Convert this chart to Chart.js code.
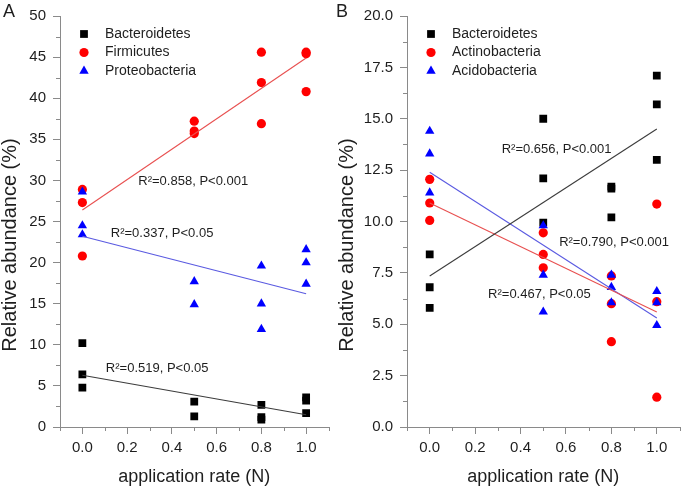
<!DOCTYPE html>
<html>
<head>
<meta charset="utf-8">
<script src="https://cdn.jsdelivr.net/npm/chart.js@4.4.1/dist/chart.umd.min.js"></script>
<style>
  html, body { margin: 0; padding: 0; background: #fff; }
  #wrap { position: relative; width: 685px; height: 490px; }
  #chartA { position: absolute; left: 0; top: 0; }
  #chartB { position: absolute; left: 334px; top: 0; }
</style>
</head>
<body>
<div id="wrap">
  <canvas id="chartA" width="334" height="490"></canvas>
  <canvas id="chartB" width="351" height="490"></canvas>
</div>
<script>
const FONT = "'Liberation Sans', Arial, sans-serif";
const TEXT = '#1e1e1e';
const AXIS = '#8a8a8a';

// shared x axis
const xTicks = [0, 0.2, 0.4, 0.6, 0.8, 1.0];
const xMinor = [-0.1, 0.1, 0.3, 0.5, 0.7, 0.9, 1.1];
const fitX = [0, 1];

// panel A
const yTicksA = [0, 5, 10, 15, 20, 25, 30, 35, 40, 45, 50];
const yMinorA = [2.5, 7.5, 12.5, 17.5, 22.5, 27.5, 32.5, 37.5, 42.5, 47.5];
const bactA_x = [0, 0, 0, 0.5, 0.5, 0.8, 0.8, 0.8, 1, 1, 1];
const bactA_y = [10.2, 6.4, 4.8, 3.1, 1.3, 2.7, 1.2, 0.9, 3.6, 3.2, 1.7];
const firmA_x = [0, 0, 0, 0.5, 0.5, 0.5, 0.8, 0.8, 0.8, 1, 1, 1];
const firmA_y = [28.9, 27.3, 20.8, 37.2, 36.0, 35.7, 45.6, 41.9, 36.9, 45.6, 45.4, 40.8];
const protA_x = [0, 0, 0, 0.5, 0.5, 0.8, 0.8, 0.8, 1, 1, 1];
const protA_y = [28.6, 24.5, 23.4, 17.7, 14.9, 19.6, 15.0, 11.9, 21.6, 20.0, 17.4];
const bactA_fit = [6.3, 1.5];
const firmA_fit = [26.4, 44.9];
const protA_fit = [23.2, 16.2];

// panel B
const yTicksB = [0, 2.5, 5, 7.5, 10, 12.5, 15, 17.5, 20];
const yMinorB = [1.25, 3.75, 6.25, 8.75, 11.25, 13.75, 16.25, 18.75];
const bactB_x = [0, 0, 0, 0.5, 0.5, 0.5, 0.8, 0.8, 0.8, 1, 1, 1];
const bactB_y = [8.4, 6.8, 5.8, 15.0, 12.1, 9.95, 11.7, 11.6, 10.2, 17.1, 15.7, 13.0];
const actB_x = [0, 0, 0, 0.5, 0.5, 0.5, 0.8, 0.8, 0.8, 1, 1, 1];
const actB_y = [12.05, 10.9, 10.05, 9.45, 8.4, 7.75, 7.35, 6.0, 4.15, 10.85, 6.1, 1.45];
const acidB_x = [0, 0, 0, 0.5, 0.5, 0.5, 0.8, 0.8, 0.8, 1, 1, 1];
const acidB_y = [14.4, 13.3, 11.4, 9.8, 7.4, 5.6, 7.4, 6.8, 6.05, 6.6, 6.05, 4.95];
const bactB_fit = [7.35, 14.5];
const actB_fit = [10.9, 5.6];
const acidB_fit = [12.4, 5.3];

function pts(xs, ys) {
  return xs.map((x, i) => ({ x: x, y: ys[i] }));
}

function markers(label, xs, ys, color, style, radius, order) {
  return {
    label: label,
    data: pts(xs, ys),
    pointStyle: style,
    pointRadius: radius,
    pointHoverRadius: radius,
    backgroundColor: color,
    borderColor: color,
    borderWidth: 0,
    showLine: false,
    order: order
  };
}

function fitLine(ys, color) {
  return {
    label: '',
    fit: true,
    data: pts(fitX, ys),
    borderColor: color,
    borderWidth: 1.1,
    pointRadius: 0,
    showLine: true,
    fill: false,
    order: 0
  };
}

function panelPlugin(cfg) {
  return {
    id: 'panel' + cfg.letter,
    afterDraw(chart) {
      const ctx = chart.ctx;
      const area = chart.chartArea;
      const xs = chart.scales.x;
      const ys = chart.scales.y;
      ctx.save();

      // minor ticks
      ctx.strokeStyle = AXIS;
      ctx.lineWidth = 1;
      ctx.beginPath();
      xMinor.forEach(v => {
        const p = Math.round(xs.getPixelForValue(v)) + 0.5;
        ctx.moveTo(p, area.bottom);
        ctx.lineTo(p, area.bottom + 4);
      });
      cfg.yMinor.forEach(v => {
        const p = Math.round(ys.getPixelForValue(v)) + 0.5;
        ctx.moveTo(area.left - 4, p);
        ctx.lineTo(area.left, p);
      });
      ctx.stroke();

      // legend
      ctx.font = '14px ' + FONT;
      ctx.textAlign = 'left';
      ctx.textBaseline = 'middle';
      chart.data.datasets.filter(d => !d.fit).forEach((d, i) => {
        const y = area.top + 18 + i * 18.5;
        const x = area.left + 24;
        ctx.fillStyle = d.backgroundColor;
        Chart.helpers.drawPoint(ctx, {
          pointStyle: d.pointStyle, radius: d.pointRadius, rotation: 0, borderWidth: 0
        }, x, y);
        ctx.fillStyle = TEXT;
        ctx.fillText(d.label, area.left + 45, y);
      });

      // regression notes
      ctx.font = '13px ' + FONT;
      cfg.notes.forEach(n => {
        ctx.fillText(n.text, xs.getPixelForValue(n.x), ys.getPixelForValue(n.y));
      });

      // y axis title
      ctx.save();
      ctx.font = '20px ' + FONT;
      ctx.textAlign = 'center';
      ctx.translate(cfg.yTitleX, 245);
      ctx.rotate(-Math.PI / 2);
      ctx.fillText('Relative abundance (%)', 0, 0);
      ctx.restore();

      // panel letter
      ctx.font = '18px ' + FONT;
      ctx.textAlign = 'center';
      ctx.fillText(cfg.letter, cfg.letterX, 12);

      ctx.restore();
    }
  };
}

function makeChart(id, cfg) {
  return new Chart(document.getElementById(id), {
    type: 'scatter',
    data: { datasets: cfg.datasets },
    options: {
      responsive: false,
      animation: false,
      events: [],
      layout: { padding: { top: 10, right: cfg.padRight, left: 0, bottom: 0 } },
      plugins: { legend: { display: false }, tooltip: { enabled: false } },
      scales: {
        x: {
          type: 'linear',
          min: -0.1,
          max: 1.1,
          afterBuildTicks: s => { s.ticks = xTicks.map(v => ({ value: v })); },
          afterFit: s => { s.height = 63; },
          border: { display: true, color: AXIS, width: 1 },
          grid: { drawOnChartArea: false, drawTicks: true, tickLength: 7, tickColor: AXIS },
          ticks: {
            padding: 5,
            color: TEXT,
            font: { family: FONT, size: 15 },
            maxRotation: 0,
            callback: v => v.toFixed(1)
          },
          title: {
            display: true,
            text: 'application rate (N)',
            color: TEXT,
            font: { family: FONT, size: 18 },
            padding: { top: 0, bottom: 2 }
          }
        },
        y: {
          type: 'linear',
          min: cfg.yMin,
          max: cfg.yMax,
          afterBuildTicks: s => { s.ticks = cfg.yTicks.map(v => ({ value: v })); },
          afterFit: s => { s.width = cfg.yWidth; },
          border: { display: true, color: AXIS, width: 1 },
          grid: { drawOnChartArea: false, drawTicks: true, tickLength: 7, tickColor: AXIS },
          ticks: {
            padding: 7,
            color: TEXT,
            font: { family: FONT, size: 15 },
            callback: cfg.yFormat
          }
        }
      }
    },
    plugins: [panelPlugin(cfg)]
  });
}

makeChart('chartA', {
  letter: 'A',
  letterX: 9,
  yTitleX: 10,
  yWidth: 60,
  padRight: 1,
  yMin: 0,
  yMax: 50,
  yTicks: yTicksA,
  yMinor: yMinorA,
  yFormat: v => String(v),
  datasets: [
    fitLine(firmA_fit, 'rgb(232, 80, 80)'),
    fitLine(protA_fit, 'rgb(90, 90, 225)'),
    fitLine(bactA_fit, 'rgb(60, 60, 60)'),
    markers('Bacteroidetes', bactA_x, bactA_y, '#000000', 'rect', 5.5, 3),
    markers('Firmicutes', firmA_x, firmA_y, '#ff0000', 'circle', 4.6, 2),
    markers('Proteobacteria', protA_x, protA_y, '#0000ff', 'triangle', 5.4, 1)
  ],
  notes: [
    { text: 'R\u00b2=0.858, P<0.001', x: 0.25, y: 29.9 },
    { text: 'R\u00b2=0.337, P<0.05', x: 0.127, y: 23.6 },
    { text: 'R\u00b2=0.519, P<0.05', x: 0.105, y: 7.07 }
  ]
});

makeChart('chartB', {
  letter: 'B',
  letterX: 8,
  yTitleX: 13,
  yWidth: 73,
  padRight: 3,
  yMin: 0,
  yMax: 20,
  yTicks: yTicksB,
  yMinor: yMinorB,
  yFormat: v => v.toFixed(1),
  datasets: [
    fitLine(bactB_fit, 'rgb(60, 60, 60)'),
    fitLine(actB_fit, 'rgb(232, 80, 80)'),
    fitLine(acidB_fit, 'rgb(90, 90, 225)'),
    markers('Bacteroidetes', bactB_x, bactB_y, '#000000', 'rect', 5.5, 3),
    markers('Actinobacteria', actB_x, actB_y, '#ff0000', 'circle', 4.6, 2),
    markers('Acidobacteria', acidB_x, acidB_y, '#0000ff', 'triangle', 5.4, 1)
  ],
  notes: [
    { text: 'R\u00b2=0.656, P<0.001', x: 0.317, y: 13.5 },
    { text: 'R\u00b2=0.790, P<0.001', x: 0.57, y: 8.97 },
    { text: 'R\u00b2=0.467, P<0.05', x: 0.257, y: 6.47 }
  ]
});
</script>
</body>
</html>
